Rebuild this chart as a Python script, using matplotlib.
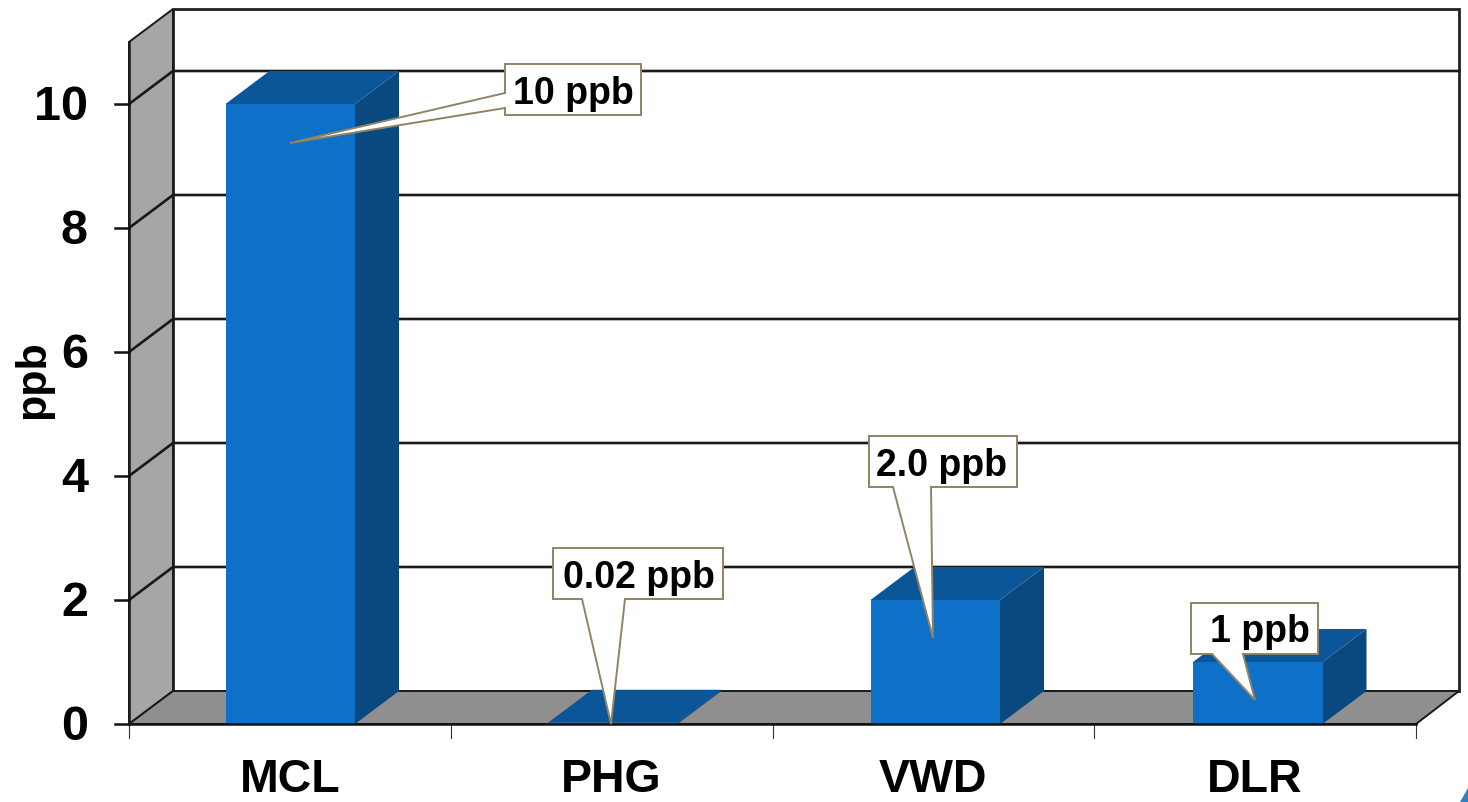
import matplotlib
matplotlib.use('Agg')
import matplotlib.pyplot as plt
from matplotlib.patches import Polygon

categories = ['MCL', 'PHG', 'VWD', 'DLR']
values = [10, 0.02, 2.0, 1]
callouts = ['10 ppb', '0.02 ppb', '2.0 ppb', '1 ppb']
yticks = [0, 2, 4, 6, 8, 10]

plt.rcParams['font.family'] = ['Liberation Sans', 'DejaVu Sans']

W, H = 1468, 802
fig = plt.figure(figsize=(W / 100, H / 100), dpi=100)
ax = fig.add_axes([0, 0, 1, 1])
ax.set_xlim(0, W)
ax.set_ylim(H, 0)
ax.axis('off')

# front plane: x 129..1416, y(0)=724, y(10)=104; depth offset
x0, x1 = 129, 1416
y_zero = 724
per_unit = 62.0
dx, dy = 44, -33
dark = '#1a1a1a'


def yv(v):
    return y_zero - v * per_unit


top = yv(11)
# back wall, side wall, floor
ax.add_patch(Polygon([(x0 + dx, top + dy), (x1 + dx - 1, top + dy), (x1 + dx - 1, y_zero + dy), (x0 + dx, y_zero + dy)],
                     fc='white', ec='#222222', lw=2, zorder=1))
ax.add_patch(Polygon([(x0, top), (x0 + dx, top + dy), (x0 + dx, y_zero + dy), (x0, y_zero)],
                     fc='#a6a6a6', ec=dark, lw=1.4, zorder=2))
ax.add_patch(Polygon([(x0, y_zero), (x0 + dx, y_zero + dy), (x1 + dx - 1, y_zero + dy), (x1, y_zero)],
                     fc='#8f8f8f', ec=dark, lw=1.4, zorder=2))

# gridlines on the walls
for t in yticks[1:]:
    ax.plot([x0, x0 + dx, x1 + dx - 1], [yv(t), yv(t) + dy, yv(t) + dy], color=dark, lw=1.9, zorder=3)

# y ticks and labels
ax.plot([x0, x0], [top, y_zero], color=dark, lw=1.8, zorder=3)
for t in yticks:
    ax.plot([x0 - 14, x0], [yv(t), yv(t)], color='#111111', lw=1.8, zorder=3)
    ax.text(88, yv(t) + 3, str(t), ha='right', va='center', fontsize=35, fontweight='bold')
ax.text(33, 380, 'ppb', rotation=90, ha='center', va='center', fontsize=31, fontweight='bold')

# x axis
slot = (x1 - x0) / len(categories)
for i in range(len(categories) + 1):
    ax.plot([x0 + i * slot] * 2, [y_zero, y_zero + 14], color='#333333', lw=0.8, zorder=3)
# baseline kept high enough that the text box stays inside the figure
for i, c in enumerate(categories):
    ax.text(x0 + (i + 0.5) * slot, 791.5, c, ha='center', va='baseline', fontsize=33.5, fontweight='bold')

# bars, spaced slightly wider than the tick slots in the original
bar_w = 129.5
bar_step = 322.5
for i, v in enumerate(values):
    left = 225.5 + i * bar_step
    right = left + bar_w
    y = yv(v)
    ax.add_patch(Polygon([(right, y), (right + dx, y + dy), (right + dx, y_zero + dy), (right, y_zero)],
                         fc='#0a4880', ec='none', zorder=5))
    ax.add_patch(Polygon([(left, y), (left + dx, y + dy), (right + dx, y + dy), (right, y)],
                         fc='#0b5699', ec='none', zorder=5))
    ax.add_patch(Polygon([(left, y), (right, y), (right, y_zero), (left, y_zero)],
                         fc='#0f70c8', ec='none', zorder=6))
ax.plot([x0, x1], [y_zero, y_zero], color='#111111', lw=1.8, zorder=7)

# callouts: box l, t, r, b, then wedge base and tip
boxes = [(505, 64, 641, 115), (553, 548, 723, 599), (869, 436, 1017, 487), (1191, 603, 1318, 654)]
wedges = [((505, 93), (505, 108), (290, 143)),
          ((582, 599), (625, 599), (611, 724)),
          ((893, 487), (931, 487), (933, 638)),
          ((1212, 654), (1243, 654), (1255, 700))]
text_shift = [0, 1, -1, 5]
for (l, t, r, b), (w0, w1, tip), label, sh in zip(boxes, wedges, callouts, text_shift):
    if w0[0] == w1[0]:
        pts = [(l, t), (r, t), (r, b), (l, b), w1, tip, w0]
    else:
        pts = [(l, t), (r, t), (r, b), w1, tip, w0, (l, b)]
    ax.add_patch(Polygon(pts, fc='white', ec='#8f8464', lw=1.4, zorder=8, joinstyle='miter'))
    ax.text((l + r) / 2 + sh, (t + b) / 2 + 4, label, ha='center', va='center', fontsize=27, fontweight='bold', zorder=9)

# sliver of a slide graphic in the corner
ax.add_patch(Polygon([(1460, 802), (1468, 788), (1468, 802)], fc='#2f7fc1', ec='none', zorder=2))

fig.savefig('out.png', dpi=100)
